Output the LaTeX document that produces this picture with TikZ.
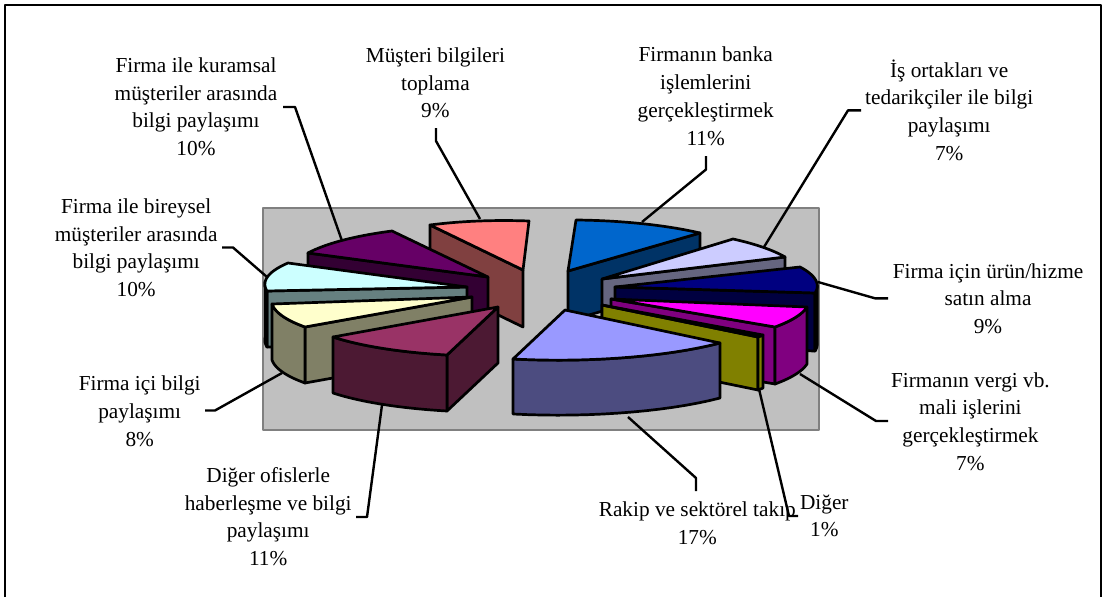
\documentclass[tikz,border=0pt]{standalone}
\usepackage{fontspec}
\setmainfont{Liberation Serif}

% slice colours: top face / side faces
\definecolor{bankaTop}{HTML}{0066CC}\definecolor{bankaSide}{HTML}{003366}
\definecolor{ortakTop}{HTML}{CCCCFF}\definecolor{ortakSide}{HTML}{666680}
\definecolor{urunTop}{HTML}{000080}\definecolor{urunSide}{HTML}{000040}
\definecolor{vergiTop}{HTML}{FF00FF}\definecolor{vergiSide}{HTML}{800080}
\definecolor{digerTop}{HTML}{FFFF00}\definecolor{digerSide}{HTML}{808000}
\definecolor{rakipTop}{HTML}{9999FF}\definecolor{rakipSide}{HTML}{4C4C80}
\definecolor{ofisTop}{HTML}{993366}\definecolor{ofisSide}{HTML}{4C1933}
\definecolor{iciTop}{HTML}{FFFFCC}\definecolor{iciSide}{HTML}{808066}
\definecolor{bireyTop}{HTML}{CCFFFF}\definecolor{bireySide}{HTML}{668080}
\definecolor{kuramTop}{HTML}{660066}\definecolor{kuramSide}{HTML}{330033}
\definecolor{musTop}{HTML}{FF8080}\definecolor{musSide}{HTML}{804040}
\definecolor{plotFill}{HTML}{C0C0C0}\definecolor{plotEdge}{HTML}{808080}

% parameters of one exploded slice
\pgfkeys{/pie/.is family, /pie/.cd,
  apex/.code args={#1,#2}{\def\pAx{#1}\def\pAy{#2}},
  from/.code args={#1,#2}{\def\pBx{#1}\def\pBy{#2}},
  to/.code args={#1,#2}{\def\pCx{#1}\def\pCy{#2}},
  angles/.code args={#1:#2}{\def\pTa{#1}\def\pTb{#2}},
  rim/.code args={#1:#2}{\def\pCa{#1}\def\pCb{#2}},
  depth/.store in=\pD,
  topcol/.store in=\pTop,
  sidecol/.store in=\pSide,
  startface/.store in=\pStart,
  endface/.store in=\pEnd,
}

% point of the (projected) outer arc at angle #1
\newcommand\arcx[1]{\pAx+(sin(\pTb-#1)*\pUx+sin(#1-\pTa)*\pVx)/\pS}
\newcommand\arcy[1]{\pAy+(sin(\pTb-#1)*\pUy+sin(#1-\pTa)*\pVy)/\pS}

\newcommand\pieslice[1]{%
  \pgfkeys{/pie/.cd, startface=0, endface=0, rim=0:0, depth=55, #1}%
  \pgfmathsetmacro\pS{sin(\pTb-\pTa)}%
  \pgfmathsetmacro\pUx{\pBx-\pAx}\pgfmathsetmacro\pUy{\pBy-\pAy}%
  \pgfmathsetmacro\pVx{\pCx-\pAx}\pgfmathsetmacro\pVy{\pCy-\pAy}%
  \ifnum\pStart=1
    \path[edge, fill=\pSide] (\pAx,\pAy) -- (\pBx,\pBy) -- (\pBx,\pBy+\pD) -- (\pAx,\pAy+\pD) -- cycle;
  \fi
  \ifnum\pEnd=1
    \path[edge, fill=\pSide] (\pAx,\pAy) -- (\pCx,\pCy) -- (\pCx,\pCy+\pD) -- (\pAx,\pAy+\pD) -- cycle;
  \fi
  \ifdim\pCb pt>\pCa pt
    \path[edge, fill=\pSide]
      plot[variable=\t, domain=\pCa:\pCb, samples=16] ({\arcx{\t}},{\arcy{\t}})
      -- plot[variable=\t, domain=\pCb:\pCa, samples=16] ({\arcx{\t}},{\arcy{\t}+\pD})
      -- cycle;
  \fi
  \path[edge, fill=\pTop] (\pAx,\pAy)
    -- plot[variable=\t, domain=\pTa:\pTb, samples=24] ({\arcx{\t}},{\arcy{\t}}) -- cycle;
}

\begin{document}
\begin{tikzpicture}[x=1pt, y=-1pt, line join=round,
  edge/.style={draw=black, line width=2.7pt},
  lbl/.style={align=center, inner sep=0pt, font=\fontsize{21.3}{27.7}\selectfont},
  leader/.style={draw=black, line width=2.4pt}]

\useasboundingbox (0,0) rectangle (1105,597);

% outer frame
\draw[line width=2pt] (5,597) -- (5,5) -- (1101,5) -- (1101,597);

% plot area
\filldraw[fill=plotFill, draw=plotEdge, line width=2.5pt] (263,208) rectangle (819,430);

% slices, back to front
\pieslice{apex={568,271}, from={576,220}, to={700,233}, angles=0:39.6,
  topcol=bankaTop, sidecol=bankaSide, endface=1, depth=50}
\pieslice{apex={523,270}, from={430,225}, to={529,221}, angles=327.6:360,
  topcol=musTop, sidecol=musSide, startface=1, depth=57}
\pieslice{apex={602,279}, from={733,239}, to={785,257}, angles=39.6:64.8,
  topcol=ortakTop, sidecol=ortakSide, endface=1, depth=52}
\pieslice{apex={488,277}, from={308,253}, to={392,231}, angles=291.6:327.6,
  topcol=kuramTop, sidecol=kuramSide, startface=1, depth=54}
\pieslice{apex={615,287}, from={800,267}, to={815,293}, angles=64.8:97.2,
  topcol=urunTop, sidecol=urunSide, endface=1, rim=88:97.2, depth=58}
\pieslice{apex={467,287}, from={267,291}, to={288,263}, angles=255.6:291.6,
  topcol=bireyTop, sidecol=bireySide, startface=1, rim=255.6:268, depth=56}
\pieslice{apex={611,299}, from={807,307}, to={775,327}, angles=97.2:122.4,
  topcol=vergiTop, sidecol=vergiSide, endface=1, rim=97.2:122.4, depth=57}
\pieslice{apex={472,297}, from={305,327}, to={272,304}, angles=226.8:255.6,
  topcol=iciTop, sidecol=iciSide, startface=1, rim=226.8:255.6, depth=56}
\pieslice{apex={602,305}, from={763,335}, to={758,337}, angles=122.4:126,
  topcol=digerTop, sidecol=digerSide, endface=1, rim=122.4:126, depth=53}
\pieslice{apex={498,307}, from={447,355}, to={333,337}, angles=187.2:226.8,
  topcol=ofisTop, sidecol=ofisSide, startface=1, rim=187.2:226.8, depth=56}
\pieslice{apex={565,310}, from={720,343}, to={513,359}, angles=126:187.2,
  topcol=rakipTop, sidecol=rakipSide, rim=126:187.2, depth=55}

% labels
\node[lbl] (kuram) at (196,106.6) {Firma ile kuramsal\\müşteriler arasında\\bilgi paylaşımı\\10\%};
\node[lbl] (mus)   at (435.4,82.8) {Müşteri bilgileri\\toplama\\9\%};
\node[lbl] (banka) at (705.7,96.2) {Firmanın banka\\işlemlerini\\gerçekleştirmek\\11\%};
\node[lbl] (ortak) at (949.2,110) {İş ortakları ve\\tedarikçiler ile bilgi\\paylaşımı\\7\%};
\node[lbl] (urun)  at (988,298.5) {Firma için ürün/hizme\\satın alma\\9\%};
\node[lbl] (vergi) at (970.4,421.5) {Firmanın vergi vb.\\mali işlerini\\gerçekleştirmek\\7\%};
\node[lbl] (diger) at (824.3,516) {Diğer\\1\%};
\node[lbl] (rakip) at (697.3,523) {Rakip ve sektörel takıp\\17\%};
\node[lbl] (ofis)  at (268.2,516.5) {Diğer ofislerle\\haberleşme ve bilgi\\paylaşımı\\11\%};
\node[lbl] (ici)   at (139.7,411.3) {Firma içi bilgi\\paylaşımı\\8\%};
\node[lbl] (birey) at (136.2,247.8) {Firma ile bireysel\\müşteriler arasında\\bilgi paylaşımı\\10\%};

% leader line points: on the slice, at the bend, at the label end
\coordinate (kuram-s) at (341.7,240); \coordinate (kuram-b) at (295,107);   \coordinate (kuram-e) at (283,107);
\coordinate (mus-s)   at (480,219);   \coordinate (mus-b)   at (436,141);   \coordinate (mus-e)   at (436,128);
\coordinate (banka-s) at (642,222);   \coordinate (banka-b) at (706,169.5); \coordinate (banka-e) at (706,156);
\coordinate (ortak-s) at (764,247);   \coordinate (ortak-b) at (848,110.4); \coordinate (ortak-e) at (861,110.4);
\coordinate (urun-s)  at (818,282);   \coordinate (urun-b)  at (875,298.3); \coordinate (urun-e)  at (888,298.3);
\coordinate (vergi-s) at (800,374);   \coordinate (vergi-b) at (876,421);   \coordinate (vergi-e) at (888,421);
\coordinate (diger-s) at (759,389);   \coordinate (diger-b) at (789,516);   \coordinate (diger-e) at (798,516);
\coordinate (rakip-s) at (628,417);   \coordinate (rakip-b) at (696,478);   \coordinate (rakip-e) at (696,491);
\coordinate (ofis-s)  at (382,405);   \coordinate (ofis-b)  at (367,517);   \coordinate (ofis-e)  at (356,517);
\coordinate (ici-s)   at (282,373);   \coordinate (ici-b)   at (215,410.5); \coordinate (ici-e)   at (205,410.5);
\coordinate (birey-s) at (267,277);   \coordinate (birey-b) at (233,247.5); \coordinate (birey-e) at (222,247.5);

\foreach \n in {kuram,mus,banka,ortak,urun,vergi,diger,rakip,ofis,ici,birey}
  \draw[leader] (\n-s) -- (\n-b) -- (\n-e);

\end{tikzpicture}
\end{document}
